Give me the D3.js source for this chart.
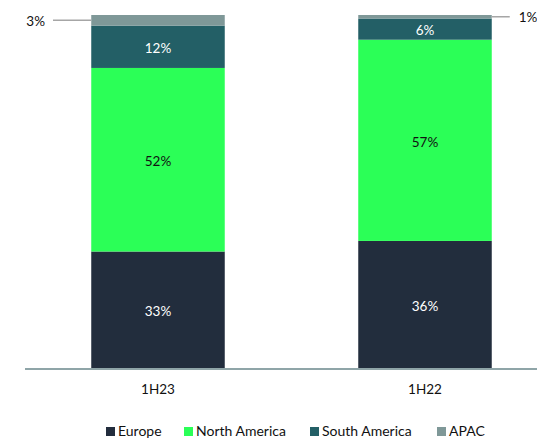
<!DOCTYPE html>
<html><head><meta charset="utf-8">
<script src="https://cdn.jsdelivr.net/npm/d3@7"></script>
<style>body{margin:0;background:#fff;}svg{display:block;font-family:Lato,"Open Sans",sans-serif;}</style>
</head><body>
<svg id="c" width="537" height="438"></svg>
<script>
const categories = ["1H23", "1H22"];
const seriesNames = ["Europe", "North America", "South America", "APAC"];
const europe = [33, 36];
const northAmerica = [52, 57];
const southAmerica = [12, 6];
const apac = [3, 1];
const colors = ["#222d3d", "#2bff57", "#235f66", "#7f9898"];
const labelColors = ["#ffffff", "#111111", "#ffffff", null];

(function () {
const series = [europe, northAmerica, southAmerica, apac];
const data = categories.map((c, i) => {
  const o = {cat: c};
  seriesNames.forEach((s, j) => o[s] = series[j][i]);
  return o;
});
const stacked = d3.stack().keys(seriesNames)(data);

const svg = d3.select("#c");
const x = d3.scaleBand().domain(categories).range([24.5, 558.5]).paddingInner(0.5).paddingOuter(0.25);
const y = d3.scaleLinear().domain([0, 100]).range([368, 15]);

stacked.forEach((layer, j) => {
  svg.append("g").selectAll("rect").data(layer).join("rect")
    .attr("x", d => x(d.data.cat))
    .attr("width", x.bandwidth())
    .attr("y", d => y(d[1]))
    .attr("height", d => y(d[0]) - y(d[1]))
    .attr("fill", colors[j]);
  if (labelColors[j]) {
    svg.append("g").selectAll("text").data(layer).join("text")
      .attr("x", d => x(d.data.cat) + x.bandwidth() / 2)
      .attr("y", d => (y(d[0]) + y(d[1])) / 2 + 1.5)
      .attr("dy", "0.35em")
      .attr("text-anchor", "middle")
      .attr("font-size", 13.5)
      .attr("fill", labelColors[j])
      .text(d => (d[1] - d[0]) + "%");
  }
});

// APAC leader labels
const topLayer = stacked[3];
{
  const d = topLayer[0];
  const yy = (y(d[0]) + y(d[1])) / 2;
  svg.append("line").attr("x1", 53).attr("x2", x(d.data.cat)).attr("y1", yy).attr("y2", yy)
    .attr("stroke", "#a6a6a6").attr("stroke-width", 1.5);
  svg.append("text").attr("x", 45).attr("y", yy + 1).attr("dy", "0.35em").attr("text-anchor", "end")
    .attr("font-size", 13.5).attr("fill", "#111").text((d[1] - d[0]) + "%");
}
{
  const d = topLayer[1];
  const yy = (y(d[0]) + y(d[1])) / 2;
  const xr = x(d.data.cat) + x.bandwidth();
  svg.append("line").attr("x1", xr).attr("x2", xr + 18).attr("y1", yy).attr("y2", yy)
    .attr("stroke", "#a6a6a6").attr("stroke-width", 1.5);
  svg.append("text").attr("x", xr + 27).attr("y", yy + 1).attr("dy", "0.35em").attr("text-anchor", "start")
    .attr("font-size", 13.5).attr("fill", "#111").text((d[1] - d[0]) + "%");
}

// axis
const axis = d3.axisBottom(x).tickSize(0);
const ag = svg.append("g").attr("transform", "translate(0,368)").call(axis);
ag.select(".domain").remove();
ag.selectAll(".tick text").attr("y", 21).attr("dy", "0.35em")
  .attr("font-size", 13.5).attr("fill", "#111").attr("font-family", "Lato,'Open Sans',sans-serif");
svg.append("line").attr("x1", 25).attr("x2", 537).attr("y1", 369).attr("y2", 369)
  .attr("stroke", "#8fa5a8").attr("stroke-width", 2);

// legend
const legX = [106, 184, 310, 437];
const lg = svg.append("g");
seriesNames.forEach((s, i) => {
  lg.append("rect").attr("x", legX[i]).attr("y", 427).attr("width", 9).attr("height", 9).attr("fill", colors[i]);
  lg.append("text").attr("x", legX[i] + 12).attr("y", 431).attr("dy", "0.35em")
    .attr("font-size", 14).attr("fill", "#111").text(s);
});
})();
</script>
</body></html>
